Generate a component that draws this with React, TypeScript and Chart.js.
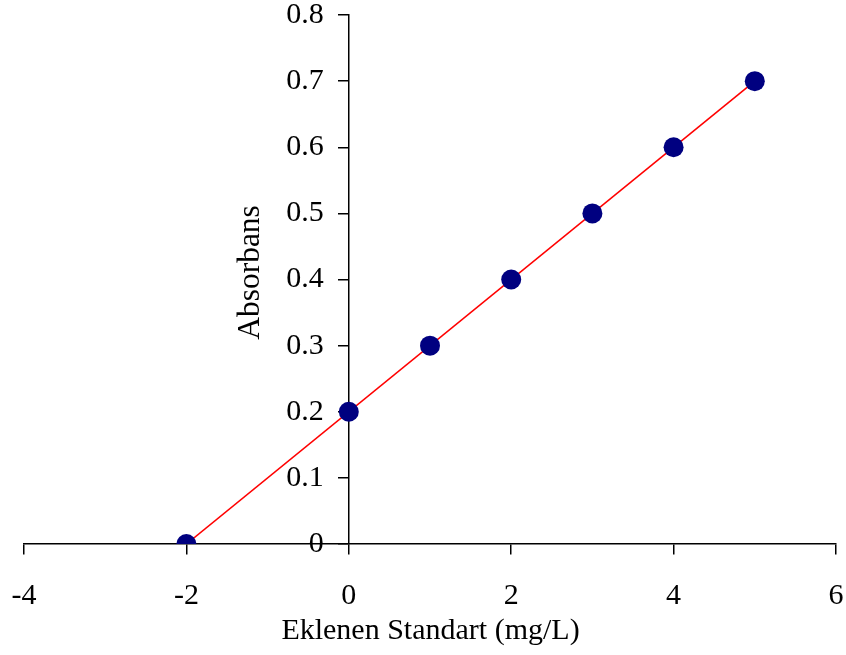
import React, { useEffect, useRef } from "react";
import { Chart, registerables } from "chart.js";

Chart.register(...registerables);

// Standard-addition calibration data
const addedStandard = [-2, 0, 1, 2, 3, 4, 5];
const absorbance = [0, 0.2, 0.3, 0.4, 0.5, 0.6, 0.7];

// Fitted calibration line end points
const fitX = [-2, 5];
const fitY = [0, 0.7];

const xTitle = "Eklenen Standart (mg/L)";
const yTitle = "Absorbans";

const FONT_FAMILY = "'Liberation Serif', 'Times New Roman', serif";

// Axes sit on x = 0 / y = 0, so their tick labels are nudged away from the axis lines
const labelOffsets = {
  id: "labelOffsets",
  afterLayout(chart: any) {
    const area = chart.chartArea;
    const shift = (scale: any, dx: number, dy: number) => {
      const items = scale.getLabelItems(area);
      items.forEach((it: any) => {
        it.options.translation[0] += dx;
        it.options.translation[1] += dy;
      });
    };
    shift(chart.scales.y, -25, 0);
    shift(chart.scales.x, 0, 27);
  },
};

const axisTitles = {
  id: "axisTitles",
  afterDraw(chart: any) {
    const { ctx, scales } = chart;
    const xs = scales.x;
    const ys = scales.y;
    ctx.save();
    ctx.fillStyle = "#000";
    ctx.textAlign = "center";
    ctx.textBaseline = "middle";
    ctx.font = `30px ${FONT_FAMILY}`;
    ctx.fillText(xTitle, (xs.left + xs.right) / 2 + 0.5, ys.getPixelForValue(0) + 87);
    ctx.font = `31.5px ${FONT_FAMILY}`;
    ctx.translate(xs.getPixelForValue(0) - 98, ys.getPixelForValue(0.4) - 7);
    ctx.rotate(-Math.PI / 2);
    ctx.fillText(yTitle, 0, 0);
    ctx.restore();
  },
};

export default function App() {
  const canvasRef = useRef<HTMLCanvasElement>(null);

  useEffect(() => {
    if (!canvasRef.current) return;
    const chart = new Chart(canvasRef.current, {
      type: "scatter",
      data: {
        datasets: [
          {
            label: "Ölçüm",
            data: addedStandard.map((x, i) => ({ x, y: absorbance[i] })),
            backgroundColor: "#000080",
            borderColor: "#000080",
            borderWidth: 0,
            pointRadius: 10,
            pointHoverRadius: 10,
          },
          {
            label: "Doğru",
            type: "line",
            data: fitX.map((x, i) => ({ x, y: fitY[i] })),
            borderColor: "#ff0000",
            borderWidth: 1.6,
            pointRadius: 0,
            fill: false,
          },
        ],
      },
      options: {
        responsive: true,
        maintainAspectRatio: false,
        animation: false,
        layout: { padding: { left: 24, right: 9, top: 15, bottom: 111 } },
        plugins: { legend: { display: false }, tooltip: { enabled: false } },
        scales: {
          x: {
            type: "linear",
            position: { y: 0 } as any,
            min: -4,
            max: 6,
            ticks: {
              stepSize: 2,
              color: "#000",
              padding: 0,
              font: { family: FONT_FAMILY, size: 30, lineHeight: 1 },
            },
            grid: { drawOnChartArea: false, color: "#000", tickLength: 10, lineWidth: 1.5 },
            border: { color: "#000", width: 1.5 },
          },
          y: {
            type: "linear",
            position: { x: 0 } as any,
            min: 0,
            max: 0.8,
            ticks: {
              stepSize: 0.1,
              color: "#000",
              padding: 0,
              font: { family: FONT_FAMILY, size: 30, lineHeight: 1 },
              callback: (v: any) => String(Number(Number(v).toFixed(1))),
            },
            grid: { drawOnChartArea: false, color: "#000", tickLength: 10, lineWidth: 1.5 },
            border: { color: "#000", width: 1.5 },
          },
        },
      },
      plugins: [labelOffsets, axisTitles],
    });
    return () => chart.destroy();
  }, []);

  return (
    <div style={{ position: "fixed", left: 0, top: 0, width: 846, height: 655, background: "#fff" }}>
      <canvas ref={canvasRef} />
    </div>
  );
}
